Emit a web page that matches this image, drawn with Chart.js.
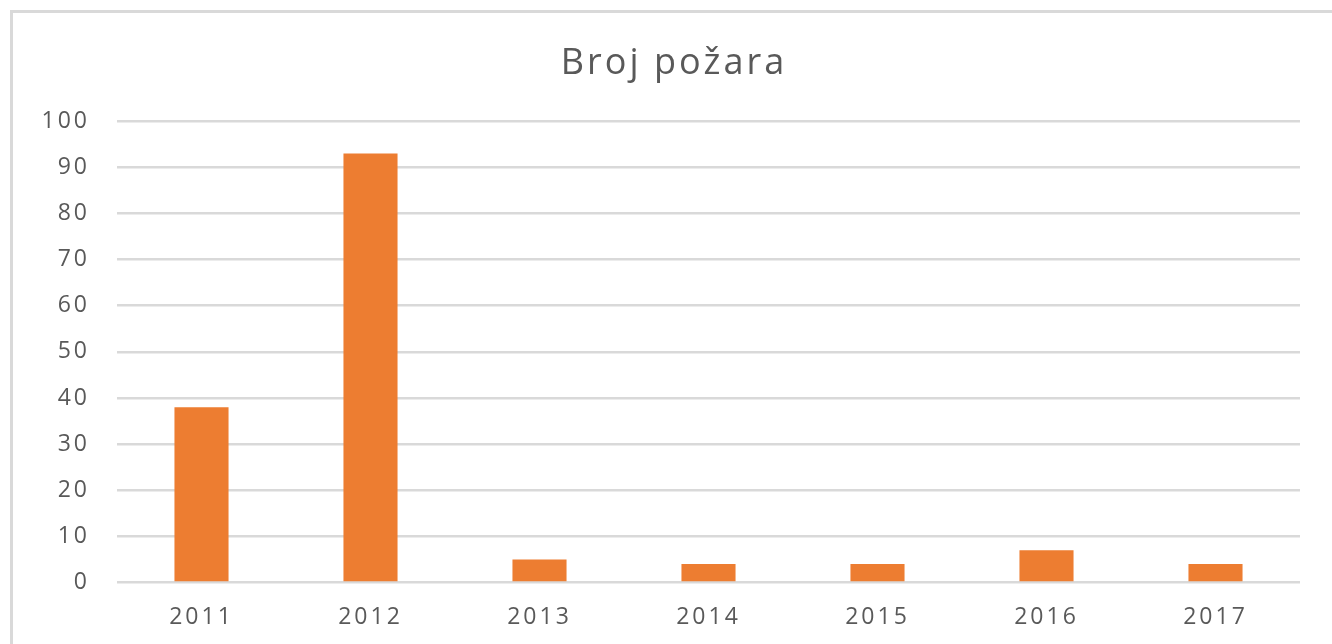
<!DOCTYPE html>
<html>
<head>
<meta charset="utf-8">
<title>Broj požara</title>
<script src="https://cdn.jsdelivr.net/npm/chart.js@4"></script>
<style>
    html, body { margin: 0; padding: 0; background: #ffffff; overflow: hidden; }
    #wrap { position: relative; width: 1332px; height: 644px; }
    /* chart frame, cut off at the right and bottom like the picture */
    #frame {
        position: absolute; left: 10px; top: 10px;
        width: 1400px; height: 700px;
        border: 3px solid #d9d9d9;
    }
    #chart { position: absolute; left: 0; top: 0; }
</style>
</head>
<body>
<div id="wrap">
    <div id="frame"></div>
    <canvas id="chart" width="1332" height="644"></canvas>
</div>
<script>
// Chart data
const years = ['2011', '2012', '2013', '2014', '2015', '2016', '2017'];
const fireCounts = [38, 93, 5, 4, 4, 7, 4];
const yTicks = [0, 10, 20, 30, 40, 50, 60, 70, 80, 90, 100];

const textColor = '#595959';
const gridColor = '#d9d9d9';
const barColor = '#ed7d31';

// the text in the picture is a bit wider, so space the letters out
const letterSpacingPlugin = {
    id: 'letterSpacing',
    beforeLayout: function(chart) {
        chart.ctx.letterSpacing = '3px';
    },
    afterLayout: function(chart) {
        // title sits a bit right of the middle in the picture
        if (chart.titleBlock) {
            chart.titleBlock.left += 48;
        }
    },
    beforeDraw: function(chart) {
        chart.ctx.letterSpacing = '3px';
    }
};

document.addEventListener('DOMContentLoaded', function() {
    const ctx = document.getElementById('chart');

    new Chart(ctx, {
        type: 'bar',
        data: {
            labels: years,
            datasets: [{
                label: 'Broj požara',
                data: fireCounts,
                backgroundColor: barColor,
                borderWidth: 0,
                categoryPercentage: 1,
                barPercentage: 0.32
            }]
        },
        options: {
            responsive: false,
            animation: false,
            layout: {
                padding: { left: 0, right: 32, top: 0, bottom: 13.5 }
            },
            scales: {
                x: {
                    afterFit: function(scale) {
                        scale.height = 48;
                    },
                    grid: { display: false },
                    border: { display: false },
                    ticks: {
                        color: textColor,
                        font: { family: 'Open Sans', size: 23 },
                        padding: 12.7,
                        maxRotation: 0
                    }
                },
                y: {
                    min: 0,
                    max: 100,
                    afterFit: function(scale) {
                        scale.width = 117;
                    },
                    afterBuildTicks: function(scale) {
                        scale.ticks = yTicks.map(v => ({ value: v }));
                    },
                    grid: {
                        color: gridColor,
                        lineWidth: 2.5,
                        drawTicks: false
                    },
                    border: { display: false },
                    ticks: {
                        color: textColor,
                        font: { family: 'Open Sans', size: 23 },
                        padding: 27
                    }
                }
            },
            plugins: {
                legend: { display: false },
                tooltip: { enabled: false },
                title: {
                    display: true,
                    text: 'Broj požara',
                    color: textColor,
                    font: { family: 'Open Sans', size: 36, weight: 'normal' },
                    padding: { top: 42, bottom: 36 }
                }
            }
        },
        plugins: [letterSpacingPlugin]
    });
});
</script>
</body>
</html>
